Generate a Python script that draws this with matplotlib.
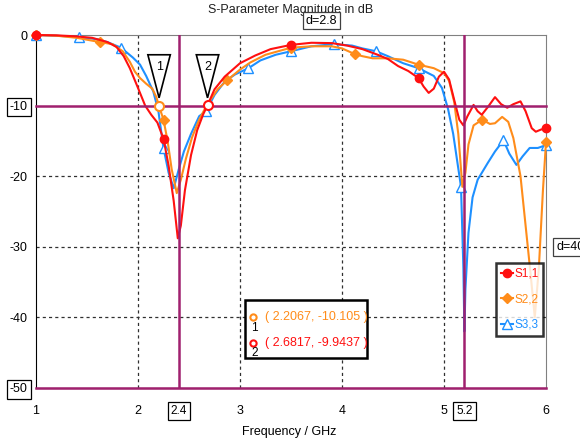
import matplotlib
matplotlib.use('Agg')
import matplotlib.pyplot as plt
from matplotlib.patches import Polygon, Rectangle
import numpy as np

plt.rcParams['font.family'] = ['Liberation Sans', 'DejaVu Sans']
plt.rcParams['font.size'] = 8.5

# S1,1 (red)
f_s11 = [1.0, 1.2, 1.4, 1.55, 1.7, 1.79, 1.86, 1.92, 2.0, 2.07, 2.13, 2.19, 2.25, 2.3, 2.35, 2.39,
         2.42, 2.46, 2.52, 2.58, 2.64, 2.6817, 2.75, 2.85, 3.0, 3.15, 3.3, 3.5, 3.7, 3.9, 4.05, 4.2,
         4.35, 4.45, 4.55, 4.65, 4.75, 4.8, 4.85, 4.9, 4.95, 5.0, 5.05, 5.1, 5.15, 5.19, 5.23, 5.29,
         5.33, 5.37, 5.43, 5.5, 5.56, 5.62, 5.68, 5.75, 5.8, 5.86, 5.9, 5.95, 6.0]
s11 = [0.0, -0.05, -0.2, -0.4, -1.0, -1.7, -3.0, -4.7, -7.5, -10.0, -11.3, -12.4, -14.7, -18.5, -23.5, -28.8,
       -27.0, -22.0, -17.0, -13.5, -11.2, -9.94, -7.7, -5.9, -4.0, -2.9, -2.0, -1.4, -1.1, -1.15, -1.5, -2.0,
       -2.8, -3.4, -4.4, -5.1, -6.1, -7.3, -8.2, -7.6, -5.9, -5.2, -6.3, -9.2, -12.0, -12.8, -11.5, -9.9,
       -10.8, -11.3, -10.2, -8.8, -9.8, -10.3, -9.8, -9.4, -10.8, -13.2, -13.7, -13.4, -13.2]

# S2,2 (orange)
f_s22 = [1.0, 1.2, 1.4, 1.625, 1.75, 1.85, 1.92, 1.97, 2.02, 2.08, 2.14, 2.18, 2.2067, 2.25, 2.29, 2.33,
         2.38, 2.42, 2.47, 2.53, 2.6, 2.65, 2.7, 2.78, 2.875, 3.0, 3.1, 3.25, 3.5, 3.7, 3.9, 4.0,
         4.125, 4.2, 4.3, 4.45, 4.6, 4.75, 4.9, 5.0, 5.05, 5.1, 5.14, 5.18, 5.21, 5.24, 5.29, 5.375,
         5.45, 5.5, 5.57, 5.63, 5.68, 5.75, 5.8, 5.85, 5.89, 5.93, 5.97, 6.0]
s22 = [0.0, -0.1, -0.4, -1.0, -1.3, -2.3, -3.8, -5.2, -6.1, -6.9, -7.6, -8.8, -10.1, -12.0, -15.0, -19.0,
       -22.4, -20.5, -17.5, -14.5, -12.0, -10.6, -9.4, -7.7, -6.4, -4.9, -3.9, -2.8, -1.8, -1.6, -1.6, -1.9,
       -2.7, -3.0, -3.3, -3.3, -3.5, -4.2, -4.7, -5.4, -6.5, -9.5, -14.0, -21.5, -19.5, -15.5, -12.8, -12.0,
       -12.6, -12.5, -11.6, -12.3, -14.6, -20.0, -27.0, -34.0, -40.0, -33.0, -22.0, -15.2]

# S3,3 (blue)
f_s33 = [1.0, 1.2, 1.4167, 1.6, 1.7, 1.8333, 1.95, 2.02, 2.08, 2.15, 2.2, 2.25, 2.3, 2.35, 2.4, 2.45,
         2.52, 2.6, 2.6667, 2.75, 2.85, 2.95, 3.0833, 3.2, 3.35, 3.5, 3.7, 3.9167, 4.1, 4.2, 4.3333, 4.45,
         4.6, 4.75, 4.9, 4.98, 5.04, 5.09, 5.1667, 5.19, 5.2, 5.21, 5.24, 5.28, 5.33, 5.43, 5.5, 5.5833,
         5.64, 5.71, 5.77, 5.84, 5.92, 6.0]
s33 = [0.0, -0.1, -0.3, -0.6, -1.0, -1.8, -3.2, -4.2, -5.8, -8.0, -10.8, -16.0, -19.5, -21.7, -19.0, -16.5,
       -14.0, -11.5, -10.8, -8.5, -6.6, -5.6, -4.7, -3.6, -2.8, -2.3, -1.6, -1.3, -1.5, -1.9, -2.3, -3.0,
       -4.0, -4.7, -5.8, -7.5, -10.5, -14.0, -21.5, -33.0, -42.0, -36.0, -28.0, -23.0, -20.5, -18.1, -16.5, -14.9,
       -16.8, -18.4, -17.2, -16.0, -16.0, -15.6]

# marker frequencies on each trace
mk_s11 = [1.0, 2.25, 3.5, 4.75, 6.0]
mk_s22 = [1.0, 1.625, 2.25, 2.875, 3.5, 4.125, 4.75, 5.375, 6.0]
mk_s33 = [1.0, 1.4167, 1.8333, 2.25, 2.6667, 3.0833, 3.5, 3.9167, 4.3333, 4.75, 5.1667, 5.5833, 6.0]

# readout markers
m_freq = [2.2067, 2.6817]
m_db = [-10.105, -9.9437]
m_labels = ['1', '2']

red = '#ff1010'
orange = '#ff8c1a'
blue = '#1e90ff'
purple = '#a0206e'

fig = plt.figure(figsize=(5.8, 4.45), dpi=100)
ax = fig.add_axes([36/580, 1-388/445, 510/580, 353/445])
ax.set_xlim(1, 6)
ax.set_ylim(-50, 0)

def idx(f, marks):
	return [int(np.argmin(np.abs(np.array(f) - m))) for m in marks]

ax.plot(f_s33, s33, color=blue, lw=1.5, marker='^', ms=6.5, mfc='white', mec=blue, mew=1.0,
	markevery=idx(f_s33, mk_s33), label='S3,3', clip_on=False, zorder=3)
ax.plot(f_s22, s22, color=orange, lw=1.5, marker='D', ms=5, mfc=orange, mec=orange,
	markevery=idx(f_s22, mk_s22), label='S2,2', clip_on=False, zorder=3.1)
ax.plot(f_s11, s11, color=red, lw=1.5, marker='o', ms=6, mfc=red, mec=red,
	markevery=idx(f_s11, mk_s11), label='S1,1', clip_on=False, zorder=3.2)

# marker lines
for yv in [-10, -50]:
	ax.axhline(yv, color=purple, lw=1.8, zorder=3.5, clip_on=False)
for xv in [2.4, 5.2]:
	ax.axvline(xv, color=purple, lw=1.8, zorder=3.5)

# grid
for xv in [2, 3, 4, 5]:
	ax.axvline(xv, color='#303030', lw=0.9, ls=(0, (2.5, 2.5)), zorder=1)
for yv in [-20, -30, -40]:
	ax.axhline(yv, color='#303030', lw=0.9, ls=(0, (2.5, 2.5)), zorder=1)

# spines
ax.spines['left'].set_color('black')
ax.spines['bottom'].set_color('black')
ax.spines['top'].set_color('#808080')
ax.spines['right'].set_color('#808080')
ax.tick_params(length=0, labelsize=9)

ax.set_xticks([1, 2, 3, 4, 5, 6])
ax.set_xticks([2.4, 5.2], minor=True)
ax.set_xticklabels(['1', '2', '3', '4', '5', '6'])
ax.set_xticklabels(['2.4', '5.2'], minor=True)
ax.tick_params(axis='x', which='both', length=0, pad=12)
ax.set_yticks([0, -10, -20, -30, -40, -50])
ax.set_yticklabels(['0', '-10', '-20', '-30', '-40', '-50'])
ax.tick_params(axis='y', pad=6)
for lab in ax.get_xticklabels(minor=True):
	lab.set_bbox(dict(facecolor='white', edgecolor='black', boxstyle='square,pad=0.25', lw=0.9))
for lab in ax.get_yticklabels():
	if lab.get_text() in ('-10', '-50'):
		lab.set_bbox(dict(facecolor='white', edgecolor='black', boxstyle='square,pad=0.25', lw=0.9))

# readout markers with triangle flags
cols = [orange, red]
for f, d, lab, c in zip(m_freq, m_db, m_labels, cols):
	ax.plot([f], [d], marker='o', ms=6.5, mfc='white', mec=c, mew=1.5, zorder=5)
	tri = Polygon([[f - 0.11, -2.8], [f + 0.11, -2.8], [f, -8.9]], closed=True,
		facecolor='white', edgecolor='black', lw=1.2, zorder=6)
	ax.add_patch(tri)
	ax.text(f, -4.6, lab, ha='center', va='center', fontsize=9, zorder=7)

# readout box
ax.add_patch(Rectangle((0.41, 0.085), 0.24, 0.165, transform=ax.transAxes, facecolor='white',
	edgecolor='black', lw=1.8, zorder=8))
for i, (f, d, lab, c) in enumerate(zip(m_freq, m_db, m_labels, cols)):
	yy = 0.200 - i * 0.072
	ax.plot([0.425], [yy], transform=ax.transAxes, marker='o', ms=4.5, mfc='white', mec=c, mew=1.5,
		zorder=9, clip_on=False)
	ax.text(0.428, yy - 0.03, lab, transform=ax.transAxes, ha='center', va='center', fontsize=8.5, zorder=9)
	ax.text(0.449, yy, '( %s, %s )' % (f, d), transform=ax.transAxes, ha='left', va='center',
		color=c, fontsize=9, zorder=9)

# legend
handles, labels = ax.get_legend_handles_labels()
leg = ax.legend(handles[::-1], labels[::-1], loc='upper left', bbox_to_anchor=(0.902, 0.354),
	frameon=True, fancybox=False, handlelength=1.0, handletextpad=0.15, borderpad=0.4,
	borderaxespad=0, labelspacing=1.15, fontsize=8.5, labelcolor='linecolor')
leg.get_frame().set_edgecolor('black')
leg.get_frame().set_linewidth(1.8)
leg.set_zorder(10)

# title and distances between marker lines
ax.text(0.5, 1.071, 'S-Parameter Magnitude in dB', transform=ax.transAxes, ha='center', va='center',
	fontsize=9, zorder=1, color='#202020')
ax.text(3.8, 1.04, 'd=2.8', transform=ax.get_xaxis_transform(), ha='center', va='center', fontsize=9,
	bbox=dict(facecolor='white', edgecolor='#404040', boxstyle='square,pad=0.2', lw=0.9), zorder=12,
	clip_on=False)
ax.text(6.1, -30, 'd=40', ha='left', va='center', fontsize=9,
	bbox=dict(facecolor='white', edgecolor='#404040', boxstyle='square,pad=0.25', lw=0.9), zorder=12,
	clip_on=False)

fig.text(289/580, 1 - 432/445, 'Frequency / GHz', ha='center', va='center', fontsize=9)

fig.savefig('out.png', dpi=100)
